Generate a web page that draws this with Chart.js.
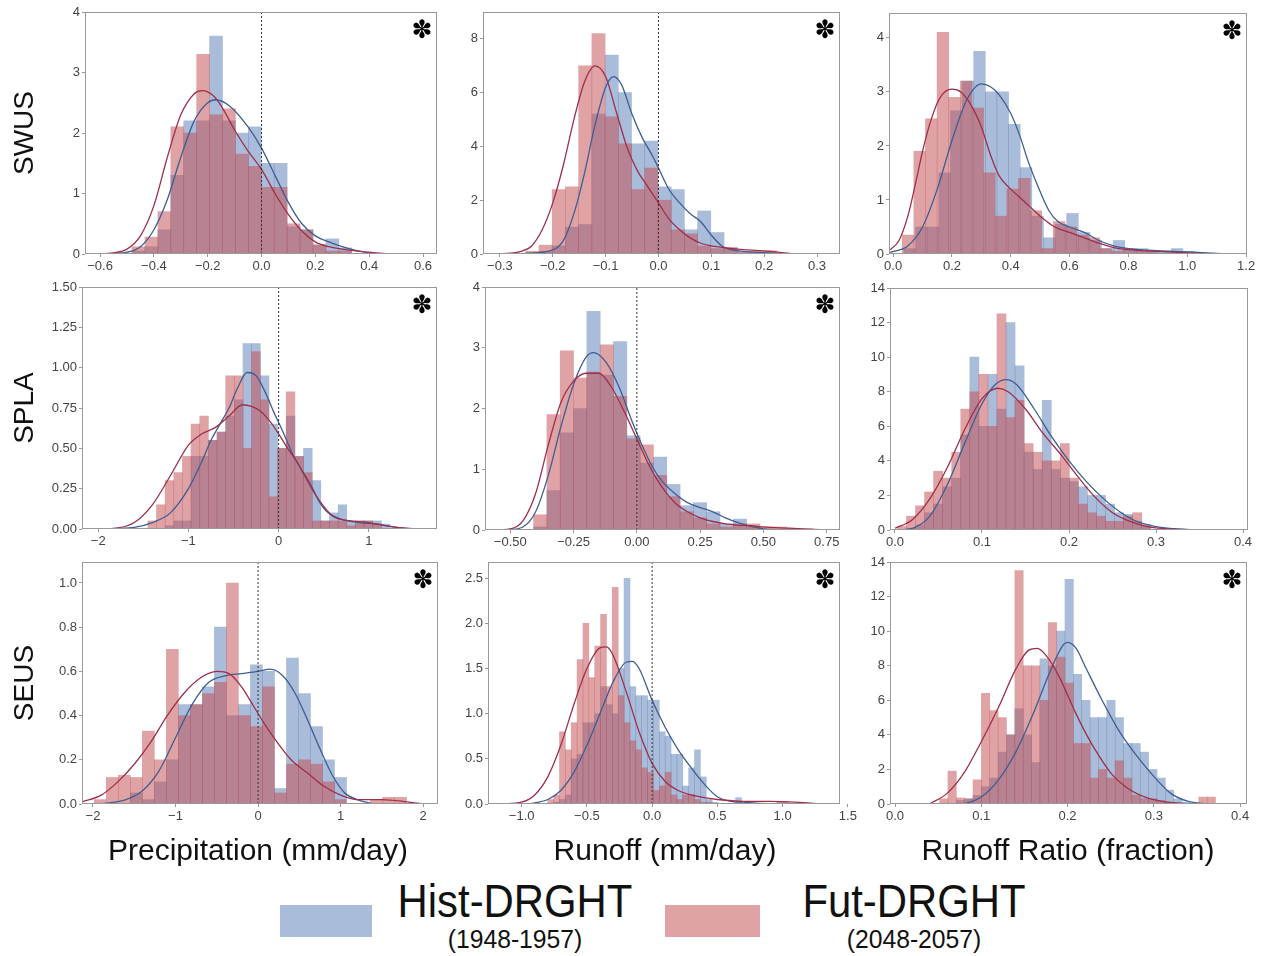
<!DOCTYPE html>
<html>
<head>
<meta charset="utf-8">
<script src="https://cdn.jsdelivr.net/npm/chart.js@4.4.0/dist/chart.umd.min.js"></script>
<style>
    html, body { margin: 0; padding: 0; background: #fff; }
    #fig { position: relative; width: 1271px; height: 956px; overflow: hidden; font-family: 'Liberation Sans', Arial, sans-serif; color: #111; }
    #fig canvas { position: absolute; }
    .lbl { position: absolute; white-space: nowrap; line-height: 1; }
    .row-lbl { font-size: 28px; transform: translate(-50%, -50%) rotate(-90deg); }
    .col-lbl { font-size: 30px; transform: translateX(-50%); }
    .star { font-family: 'DejaVu Sans', sans-serif; font-size: 25px; transform: translate(-50%, -50%); color: #000; }
    .leg-patch { position: absolute; }
    .leg-big { font-size: 46px; transform: translateX(-50%) scaleX(0.91); }
    .leg-small { font-size: 26px; transform: translateX(-50%) scaleX(0.95); }
</style>
</head>
<body>
<div id="fig"></div>
<script>
// Hist-DRGHT (1948-1957) vs Fut-DRGHT (2048-2057) distributions, 3 regions x 3 variables

// ---- labels ----
const regions = ['SWUS', 'SPLA', 'SEUS'];
const variables = ['Precipitation (mm/day)', 'Runoff (mm/day)', 'Runoff Ratio (fraction)'];
const seriesNames = ['Hist-DRGHT', 'Fut-DRGHT'];
const seriesYears = ['(1948-1957)', '(2048-2057)'];

// panel order: row by row (SWUS precip, SWUS runoff, SWUS ratio, SPLA ..., SEUS ...)
const significant = [true, true, true, true, true, false, true, true, true];
const zeroLine = [true, true, false, true, true, false, true, true, false];

// ---- histogram bins (left edge of first bin, bin width) ----
const histBinStart = [-0.481, -0.251, 0.037, -1.45, -0.408, 0.0028, -1.984, -0.8, 0.0517];
const futBinStart  = [-0.481, -0.251, 0.031, -1.45, -0.408, 0.0028, -1.984, -0.8, 0.0517];
const binWidth     = [0.048, 0.025, 0.0395, 0.0959, 0.0526, 0.0104, 0.1455, 0.045, 0.00969];

// ---- axes ----
const xMin = [-0.656, -0.332, -0.014, -2.18, -0.6, -0.0057, -2.133, -1.258, -0.0058];
const xMax = [0.652, 0.3435, 1.203, 1.756, 0.8025, 0.4057, 2.18, 1.44, 0.408];
const yMax = [4, 9, 4.46, 1.5, 4, 14, 1.095, 2.68, 14];
const xTicks = [
    [-0.6, -0.4, -0.2, 0, 0.2, 0.4, 0.6],
    [-0.3, -0.2, -0.1, 0, 0.1, 0.2, 0.3],
    [0, 0.2, 0.4, 0.6, 0.8, 1.0, 1.2],
    [-2, -1, 0, 1],
    [-0.5, -0.25, 0, 0.25, 0.5, 0.75],
    [0, 0.1, 0.2, 0.3, 0.4],
    [-2, -1, 0, 1, 2],
    [-1, -0.5, 0, 0.5, 1, 1.5],
    [0, 0.1, 0.2, 0.3, 0.4]
];
const yTicks = [
    [0, 1, 2, 3, 4],
    [0, 2, 4, 6, 8],
    [0, 1, 2, 3, 4],
    [0, 0.25, 0.5, 0.75, 1, 1.25, 1.5],
    [0, 1, 2, 3, 4],
    [0, 2, 4, 6, 8, 10, 12, 14],
    [0, 0.2, 0.4, 0.6, 0.8, 1.0],
    [0, 0.5, 1, 1.5, 2, 2.5],
    [0, 2, 4, 6, 8, 10, 12, 14]
];
const xDecimals = [1, 1, 1, 0, 2, 1, 0, 1, 1];
const yDecimals = [0, 0, 0, 2, 0, 0, 1, 1, 0];

// ---- SWUS ----
const swusPrecipHist = [0.05, 0.12, 0.4, 1.3, 2.2, 2.2, 3.6, 2.2, 2.0, 2.1, 1.5, 1.5, 0.45, 0.4, 0.15, 0.25, 0.1];
const swusPrecipFut  = [0.12, 0.28, 0.7, 2.1, 2.0, 3.3, 2.3, 2.4, 1.65, 1.45, 1.1, 1.1, 0.5, 0.4, 0.15, 0.05, 0.05];
const swusPrecipHistKde = [[-0.6,0],[-0.55,0.01],[-0.5,0.03],[-0.45,0.12],[-0.4,0.4],[-0.35,0.9],[-0.3,1.6],[-0.25,2.2],[-0.2,2.5],[-0.17,2.55],[-0.12,2.45],[-0.05,2.1],[0,1.75],[0.05,1.3],[0.1,0.85],[0.15,0.5],[0.2,0.3],[0.25,0.2],[0.3,0.12],[0.35,0.06],[0.4,0.02],[0.45,0]];
const swusPrecipFutKde  = [[-0.62,0],[-0.55,0.02],[-0.5,0.08],[-0.45,0.3],[-0.4,0.8],[-0.35,1.6],[-0.3,2.3],[-0.25,2.65],[-0.22,2.7],[-0.18,2.62],[-0.15,2.45],[-0.1,2.05],[-0.05,1.7],[0,1.4],[0.05,1.0],[0.1,0.65],[0.15,0.38],[0.2,0.2],[0.25,0.12],[0.3,0.08],[0.35,0.05],[0.4,0.03],[0.45,0.01],[0.5,0]];

const swusRunoffHist = [0.05, 0.1, 0.3, 1.0, 1.1, 5.2, 7.4, 6.0, 4.1, 4.2, 2.5, 2.4, 0.9, 1.6, 0.8, 0.2, 0.05, 0.05, 0.05];
const swusRunoffFut  = [0.1, 0.33, 2.4, 2.5, 7.0, 8.2, 5.1, 4.1, 2.4, 3.2, 2.0, 0.9, 0.75, 0.3, 0.2, 0.25, 0.1, 0.1, 0.12];
const swusRunoffHistKde = [[-0.27,0],[-0.25,0.02],[-0.2,0.15],[-0.18,0.5],[-0.16,1.5],[-0.14,3.0],[-0.12,4.8],[-0.1,6.2],[-0.085,6.6],[-0.07,6.3],[-0.05,5.2],[-0.03,4.3],[-0.01,3.6],[0,3.2],[0.02,2.4],[0.04,1.9],[0.06,1.5],[0.08,1.2],[0.1,0.7],[0.12,0.3],[0.14,0.15],[0.16,0.1],[0.2,0.05],[0.25,0]];
const swusRunoffFutKde  = [[-0.3,0],[-0.26,0.1],[-0.24,0.3],[-0.22,0.9],[-0.2,1.9],[-0.18,3.3],[-0.16,5.0],[-0.14,6.4],[-0.12,7.0],[-0.1,6.6],[-0.08,5.3],[-0.06,4.0],[-0.04,3.1],[-0.02,2.5],[0,1.9],[0.02,1.3],[0.04,0.9],[0.06,0.6],[0.08,0.4],[0.1,0.3],[0.12,0.25],[0.15,0.18],[0.2,0.12],[0.23,0.06],[0.26,0.01],[0.3,0]];

const swusRatioHist = [0.1, 0.5, 0.5, 1.5, 2.65, 3.2, 3.75, 3.0, 3.0, 2.4, 1.6, 0.7, 0.3, 0.55, 0.75, 0.4, 0.25, 0.1, 0.25, 0.1, 0.1, 0.05, 0.05, 0.1, 0.05];
const swusRatioFut  = [0.35, 1.9, 2.5, 4.1, 2.9, 3.2, 2.7, 1.5, 0.7, 1.2, 1.4, 0.8, 0.1, 0.6, 0.5, 0.35, 0.3, 0.1, 0.05, 0.1, 0.05, 0.05];
const swusRatioHistKde = [[-0.01,0.03],[0.05,0.15],[0.1,0.5],[0.15,1.2],[0.2,2.1],[0.25,2.85],[0.3,3.15],[0.33,3.1],[0.36,2.95],[0.4,2.6],[0.43,2.2],[0.46,1.7],[0.5,1.15],[0.53,0.8],[0.56,0.6],[0.6,0.5],[0.65,0.4],[0.7,0.25],[0.75,0.15],[0.8,0.1],[0.9,0.06],[1.0,0.04],[1.1,0.01],[1.15,0]];
const swusRatioFutKde  = [[-0.01,0.08],[0.02,0.25],[0.05,0.7],[0.08,1.4],[0.1,1.9],[0.13,2.5],[0.16,2.9],[0.2,3.05],[0.23,3.0],[0.26,2.8],[0.3,2.35],[0.33,1.85],[0.36,1.45],[0.4,1.2],[0.43,1.05],[0.46,0.9],[0.5,0.7],[0.55,0.5],[0.6,0.4],[0.65,0.3],[0.7,0.2],[0.75,0.12],[0.8,0.08],[0.9,0.05],[1.0,0.02],[1.1,0]];

// ---- SPLA ----
const splaPrecipHist = [0, 0, 0.02, 0.05, 0.05, 0.45, 0.45, 0.55, 0.6, 0.7, 0.8, 1.15, 1.15, 0.95, 0.65, 0.5, 0.7, 0.45, 0.5, 0.3, 0.05, 0.1, 0.15, 0.05, 0.05, 0.05, 0.05, 0.03];
const splaPrecipFut  = [0.05, 0.15, 0.3, 0.35, 0.45, 0.65, 0.7, 0.55, 0.6, 0.95, 0.95, 0.5, 1.1, 0.8, 0.2, 0.5, 0.85, 0.45, 0.35, 0.05, 0.05, 0.05, 0.05, 0.02, 0.05, 0.05, 0.03, 0];
const splaPrecipHistKde = [[-2.0,0],[-1.8,0.003],[-1.6,0.01],[-1.4,0.04],[-1.2,0.1],[-1.0,0.25],[-0.85,0.42],[-0.75,0.55],[-0.65,0.65],[-0.55,0.75],[-0.45,0.88],[-0.35,0.97],[-0.25,0.95],[-0.15,0.85],[-0.05,0.72],[0.05,0.6],[0.15,0.47],[0.25,0.37],[0.35,0.28],[0.45,0.17],[0.55,0.1],[0.7,0.06],[0.9,0.04],[1.1,0.03],[1.3,0.01],[1.5,0]];
const splaPrecipFutKde  = [[-2.0,0],[-1.8,0.005],[-1.6,0.04],[-1.4,0.15],[-1.2,0.33],[-1.0,0.52],[-0.85,0.59],[-0.7,0.63],[-0.55,0.7],[-0.4,0.77],[-0.3,0.76],[-0.2,0.73],[-0.1,0.67],[0,0.59],[0.1,0.5],[0.2,0.42],[0.3,0.32],[0.4,0.22],[0.5,0.14],[0.6,0.08],[0.8,0.05],[1.0,0.04],[1.2,0.02],[1.4,0.005],[1.6,0]];

const splaRunoffHist = [0.05, 0.65, 1.6, 2.0, 3.6, 2.55, 3.1, 1.55, 1.1, 1.2, 0.75, 0.4, 0.45, 0.3, 0.1, 0.18, 0.05, 0.02, 0, 0, 0];
const splaRunoffFut  = [0.25, 1.9, 2.95, 2.5, 2.6, 3.05, 2.2, 1.5, 1.4, 0.9, 0.55, 0.3, 0.2, 0.1, 0.05, 0.1, 0.1, 0.05, 0.05, 0.03, 0.02];
const splaRunoffHistKde = [[-0.55,0],[-0.5,0.01],[-0.45,0.05],[-0.4,0.3],[-0.35,0.9],[-0.3,1.7],[-0.25,2.4],[-0.2,2.85],[-0.17,2.92],[-0.12,2.75],[-0.07,2.35],[-0.02,1.8],[0.02,1.4],[0.06,1.05],[0.1,0.8],[0.15,0.6],[0.2,0.45],[0.25,0.37],[0.3,0.3],[0.35,0.2],[0.4,0.12],[0.45,0.06],[0.5,0.02],[0.55,0]];
const splaRunoffFutKde  = [[-0.58,0],[-0.5,0.02],[-0.45,0.15],[-0.4,0.6],[-0.35,1.4],[-0.3,2.1],[-0.25,2.45],[-0.2,2.58],[-0.15,2.58],[-0.1,2.35],[-0.05,1.95],[0,1.5],[0.05,1.05],[0.1,0.7],[0.15,0.45],[0.2,0.3],[0.25,0.2],[0.3,0.14],[0.35,0.1],[0.4,0.08],[0.45,0.07],[0.5,0.05],[0.6,0.03],[0.7,0.01],[0.78,0]];

const splaRatioHist = [0, 0.1, 0.3, 1.0, 1.5, 2.5, 3.0, 5.5, 10.0, 6.0, 9.0, 7.0, 12.0, 9.5, 4.5, 3.5, 7.5, 3.5, 3.0, 2.8, 2.5, 2.0, 2.0, 1.5, 1.0, 0.9, 0.5, 0.2];
const splaRatioFut  = [0.2, 0.8, 1.4, 2.2, 3.4, 3.0, 4.5, 7.0, 8.0, 9.0, 6.0, 12.5, 6.5, 7.5, 5.0, 4.5, 4.0, 4.0, 5.0, 3.0, 1.5, 1.0, 0.8, 0.5, 0.5, 0.8, 1.0, 0.3];
const splaRatioHistKde = [[0,0],[0.02,0.1],[0.04,0.8],[0.06,2.6],[0.08,5.0],[0.1,7.3],[0.115,8.4],[0.128,8.7],[0.14,8.4],[0.16,7.0],[0.18,5.4],[0.2,4.0],[0.22,2.8],[0.24,1.8],[0.26,1.0],[0.28,0.45],[0.3,0.2],[0.32,0.08],[0.34,0.02],[0.36,0]];
const splaRatioFutKde  = [[0,0.1],[0.02,0.6],[0.04,1.8],[0.06,3.6],[0.08,5.8],[0.1,7.6],[0.118,8.2],[0.13,8.0],[0.15,7.0],[0.17,5.6],[0.19,4.4],[0.21,3.1],[0.23,1.9],[0.25,1.0],[0.27,0.5],[0.29,0.2],[0.31,0.08],[0.33,0.03],[0.35,0]];

// ---- SEUS ----
const seusPrecipHist = [0, 0, 0, 0.05, 0.02, 0.1, 0.2, 0.45, 0.45, 0.53, 0.8, 0.4, 0.45, 0.63, 0.6, 0.07, 0.66, 0.5, 0.35, 0.2, 0.12, 0, 0, 0, 0, 0];
const seusPrecipFut  = [0.02, 0.12, 0.13, 0.12, 0.33, 0.2, 0.7, 0.4, 0.45, 0.5, 0.55, 1.0, 0.4, 0.35, 0.53, 0.05, 0.18, 0.2, 0.18, 0.1, 0.02, 0, 0, 0.02, 0.03, 0.03];
const seusPrecipHistKde = [[-1.9,0],[-1.6,0.02],[-1.4,0.06],[-1.2,0.15],[-1.0,0.3],[-0.8,0.45],[-0.6,0.55],[-0.4,0.58],[-0.2,0.59],[0,0.6],[0.15,0.61],[0.3,0.58],[0.45,0.5],[0.6,0.38],[0.75,0.25],[0.9,0.13],[1.05,0.05],[1.2,0.02],[1.4,0]];
const seusPrecipFutKde  = [[-2.13,0.01],[-1.9,0.04],[-1.7,0.1],[-1.5,0.18],[-1.3,0.28],[-1.1,0.4],[-0.9,0.5],[-0.7,0.57],[-0.5,0.6],[-0.35,0.59],[-0.2,0.53],[-0.05,0.44],[0.1,0.35],[0.25,0.27],[0.4,0.2],[0.6,0.14],[0.8,0.08],[1.0,0.04],[1.2,0.02],[1.5,0.02],[1.8,0.01],[2.0,0]];

const seusRunoffHist = [0, 0.02, 0.05, 0.1, 0.5, 0.55, 0.9, 0.9, 1.0, 1.3, 1.1, 1.0, 1.5, 2.5, 1.3, 1.2, 1.2, 1.15, 1.15, 0.8, 0.75, 0.55, 0.55, 0.2, 0.4, 0.6, 0.3, 0.05, 0.02, 0, 0, 0, 0.07];
const seusRunoffFut  = [0.05, 0.1, 0.8, 0.6, 0.9, 1.6, 2.0, 1.4, 1.75, 2.1, 1.3, 2.4, 1.2, 0.9, 0.7, 0.6, 0.4, 0.35, 0.15, 0.2, 0.35, 0.1, 0.05, 0.1, 0.1, 0.05, 0.02, 0.02, 0, 0, 0, 0, 0, 0, 0, 0, 0, 0, 0, 0.03, 0.03];
const seusRunoffHistKde = [[-0.95,0],[-0.8,0.05],[-0.7,0.15],[-0.6,0.35],[-0.5,0.65],[-0.4,1.0],[-0.3,1.35],[-0.2,1.57],[-0.15,1.58],[-0.1,1.5],[0,1.15],[0.1,0.85],[0.2,0.6],[0.3,0.4],[0.4,0.22],[0.5,0.08],[0.6,0.03],[0.7,0.02],[0.8,0.01],[1.0,0]];
const seusRunoffFutKde  = [[-1.15,0],[-1.0,0.02],[-0.9,0.1],[-0.8,0.3],[-0.7,0.65],[-0.6,1.1],[-0.5,1.5],[-0.4,1.73],[-0.35,1.74],[-0.3,1.65],[-0.2,1.25],[-0.1,0.8],[0,0.45],[0.1,0.25],[0.2,0.15],[0.3,0.1],[0.4,0.07],[0.5,0.05],[0.7,0.03],[0.9,0.03],[1.1,0.02],[1.3,0]];

const seusRatioHist = [0, 0, 0.2, 0.3, 0.5, 1.0, 1.5, 3.0, 4.0, 5.5, 4.0, 2.4, 8.4, 8.0, 10.0, 13.0, 7.5, 6.0, 5.0, 5.0, 6.0, 5.0, 3.5, 3.5, 3.0, 2.0, 1.5, 0.8, 0.3, 0.1, 0, 0, 0];
const seusRatioFut  = [0.3, 1.9, 0.35, 0.3, 1.4, 6.4, 5.4, 5.0, 4.0, 13.5, 8.0, 8.0, 6.0, 10.5, 8.5, 7.0, 3.5, 3.5, 1.5, 2.0, 1.5, 2.5, 1.5, 0.5, 0.3, 0.3, 0.2, 0.1, 0.05, 0, 0, 0.4, 0.4];
const seusRatioHistKde = [[0.08,0],[0.1,0.4],[0.12,1.4],[0.14,3.0],[0.16,5.2],[0.18,7.7],[0.195,9.2],[0.2,9.35],[0.21,9.0],[0.22,8.0],[0.24,6.0],[0.26,4.2],[0.28,2.8],[0.3,1.6],[0.32,0.6],[0.34,0.15],[0.36,0.02],[0.38,0]];
const seusRatioFutKde  = [[0.04,0],[0.06,0.6],[0.08,1.8],[0.1,3.6],[0.12,5.6],[0.14,7.8],[0.155,8.9],[0.165,9.0],[0.175,8.6],[0.19,7.4],[0.2,6.3],[0.21,5.2],[0.22,4.2],[0.23,3.3],[0.25,1.8],[0.27,0.9],[0.29,0.4],[0.31,0.15],[0.33,0.05],[0.35,0]];

const histValues = [swusPrecipHist, swusRunoffHist, swusRatioHist, splaPrecipHist, splaRunoffHist, splaRatioHist, seusPrecipHist, seusRunoffHist, seusRatioHist];
const futValues  = [swusPrecipFut, swusRunoffFut, swusRatioFut, splaPrecipFut, splaRunoffFut, splaRatioFut, seusPrecipFut, seusRunoffFut, seusRatioFut];
const histKdes   = [swusPrecipHistKde, swusRunoffHistKde, swusRatioHistKde, splaPrecipHistKde, splaRunoffHistKde, splaRatioHistKde, seusPrecipHistKde, seusRunoffHistKde, seusRatioHistKde];
const futKdes    = [swusPrecipFutKde, swusRunoffFutKde, swusRatioFutKde, splaPrecipFutKde, splaRunoffFutKde, splaRatioFutKde, seusPrecipFutKde, seusRunoffFutKde, seusRatioFutKde];

// ---- layout: plot area of each panel [left, top, right, bottom] in page pixels ----
const plotBoxes = [
    [85, 12, 437, 254], [483, 12, 840, 254], [889, 13, 1247, 254],
    [82, 287, 437, 529], [485, 287, 840, 530], [890, 288, 1248, 530],
    [82, 562, 438, 804], [488, 562, 840, 804], [890, 562, 1247, 804]
];
const PAD_LEFT = 58, PAD_TOP = 12, PAD_RIGHT = 22, PAD_BOTTOM = 30;

const HIST_FILL = 'rgba(76, 114, 176, 0.48)';
const FUT_FILL = 'rgba(196, 78, 82, 0.52)';
const HIST_LINE = '#3e5d92';
const FUT_LINE = '#9e2f4b';
const AXIS_GRAY = '#999';
const TICK_COLOR = '#444';

const framePlugin = {
    id: 'frame',
    afterDatasetsDraw(chart) {
        const { ctx, chartArea: a } = chart;
        ctx.save();
        ctx.strokeStyle = AXIS_GRAY;
        ctx.lineWidth = 1;
        ctx.strokeRect(a.left + 0.5, a.top + 0.5, a.right - a.left - 1, a.bottom - a.top - 1);
        ctx.restore();
    }
};

const figure = {
    root: document.getElementById('fig'),

    fmt(v, d) {
        const s = Math.abs(v).toFixed(d);
        return (v < -1e-9 ? '\u2212' : '') + s;
    },

    toBars(values, start, width) {
        return values.map((v, i) => ({ x: start + (i + 0.5) * width, y: v }));
    },

    toCurve(points) {
        return points.map(([x, y]) => ({ x, y }));
    },

    addLabel(text, cls, left, top) {
        const el = document.createElement('div');
        el.className = 'lbl ' + cls;
        el.textContent = text;
        el.style.left = left + 'px';
        el.style.top = top + 'px';
        this.root.appendChild(el);
        return el;
    },

    // One histogram + kde panel
    drawPanel(i) {
        const [l, t, r, b] = plotBoxes[i];
        const canvas = document.createElement('canvas');
        const w = r - l + PAD_LEFT + PAD_RIGHT;
        const h = b - t + PAD_TOP + PAD_BOTTOM;
        canvas.width = w;
        canvas.height = h;
        canvas.style.left = (l - PAD_LEFT) + 'px';
        canvas.style.top = (t - PAD_TOP) + 'px';
        canvas.style.width = w + 'px';
        canvas.style.height = h + 'px';
        this.root.appendChild(canvas);

        const tickFont = { family: "'Liberation Sans', Arial, sans-serif", size: 13 };
        const datasets = [];
        if (zeroLine[i]) {
            datasets.push({
                type: 'line', data: [{ x: 0, y: 0 }, { x: 0, y: yMax[i] }],
                borderColor: '#333', borderWidth: 1, borderDash: [2, 2],
                pointRadius: 0, order: 0, xAxisID: 'x'
            });
        }
        datasets.push(
            {
                type: 'line', data: this.toCurve(futKdes[i]), borderColor: FUT_LINE, borderWidth: 1.3,
                pointRadius: 0, cubicInterpolationMode: 'monotone', order: 1, xAxisID: 'x'
            },
            {
                type: 'line', data: this.toCurve(histKdes[i]), borderColor: HIST_LINE, borderWidth: 1.3,
                pointRadius: 0, cubicInterpolationMode: 'monotone', order: 2, xAxisID: 'x'
            },
            {
                type: 'bar', data: this.toBars(futValues[i], futBinStart[i], binWidth[i]),
                backgroundColor: FUT_FILL, borderWidth: 0, grouped: false,
                barPercentage: 1, categoryPercentage: 1, order: 3, xAxisID: 'xf'
            },
            {
                type: 'bar', data: this.toBars(histValues[i], histBinStart[i], binWidth[i]),
                backgroundColor: HIST_FILL, borderWidth: 0, grouped: false,
                barPercentage: 1, categoryPercentage: 1, order: 4, xAxisID: 'x'
            }
        );

        new Chart(canvas, {
            type: 'bar',
            data: { datasets },
            options: {
                responsive: false,
                animation: false,
                devicePixelRatio: 1,
                layout: { padding: { left: 0, top: PAD_TOP, right: PAD_RIGHT, bottom: 0 } },
                plugins: { legend: { display: false }, tooltip: { enabled: false } },
                scales: {
                    x: {
                        type: 'linear', min: xMin[i], max: xMax[i], offset: false,
                        afterBuildTicks: ax => { ax.ticks = xTicks[i].map(v => ({ value: v })); },
                        afterFit: ax => { ax.height = PAD_BOTTOM; },
                        ticks: {
                            callback: v => this.fmt(v, xDecimals[i]), font: tickFont, color: TICK_COLOR,
                            padding: 2, maxRotation: 0, autoSkip: false
                        },
                        grid: { offset: false, drawOnChartArea: false, drawTicks: true, tickLength: 3, color: AXIS_GRAY },
                        border: { display: false }
                    },
                    xf: {
                        type: 'linear', min: xMin[i], max: xMax[i], offset: false, display: false,
                        afterBuildTicks: ax => { ax.ticks = []; },
                        grid: { offset: false }
                    },
                    y: {
                        min: 0, max: yMax[i],
                        afterBuildTicks: ax => { ax.ticks = yTicks[i].map(v => ({ value: v })); },
                        afterFit: ax => { ax.width = PAD_LEFT; },
                        ticks: {
                            callback: v => this.fmt(v, yDecimals[i]), font: tickFont, color: TICK_COLOR,
                            padding: 2, autoSkip: false
                        },
                        grid: { drawOnChartArea: false, drawTicks: true, tickLength: 3, color: AXIS_GRAY },
                        border: { display: false }
                    }
                }
            },
            plugins: [framePlugin]
        });

        if (significant[i]) {
            this.addLabel('\u273D', 'star', r - 15, t + 17);
        }
    },

    drawLabels() {
        const rowCenters = [133, 408, 683];
        regions.forEach((name, k) => this.addLabel(name, 'row-lbl', 24, rowCenters[k]));

        const colCenters = [258, 665, 1068];
        variables.forEach((name, k) => this.addLabel(name, 'col-lbl', colCenters[k], 835));
    },

    drawLegend() {
        const patches = [[280, 905, 92, 32, HIST_FILL], [665, 905, 95, 32, FUT_FILL]];
        const textCenters = [515, 914];
        patches.forEach(([x, y, w, h, c], k) => {
            const p = document.createElement('div');
            p.className = 'leg-patch';
            Object.assign(p.style, { left: x + 'px', top: y + 'px', width: w + 'px', height: h + 'px', background: c });
            this.root.appendChild(p);
            this.addLabel(seriesNames[k], 'leg-big', textCenters[k], 878);
            this.addLabel(seriesYears[k], 'leg-small', textCenters[k], 926);
        });
    },

    init() {
        for (let i = 0; i < plotBoxes.length; i++) this.drawPanel(i);
        this.drawLabels();
        this.drawLegend();
    }
};

figure.init();
</script>
</body>
</html>
